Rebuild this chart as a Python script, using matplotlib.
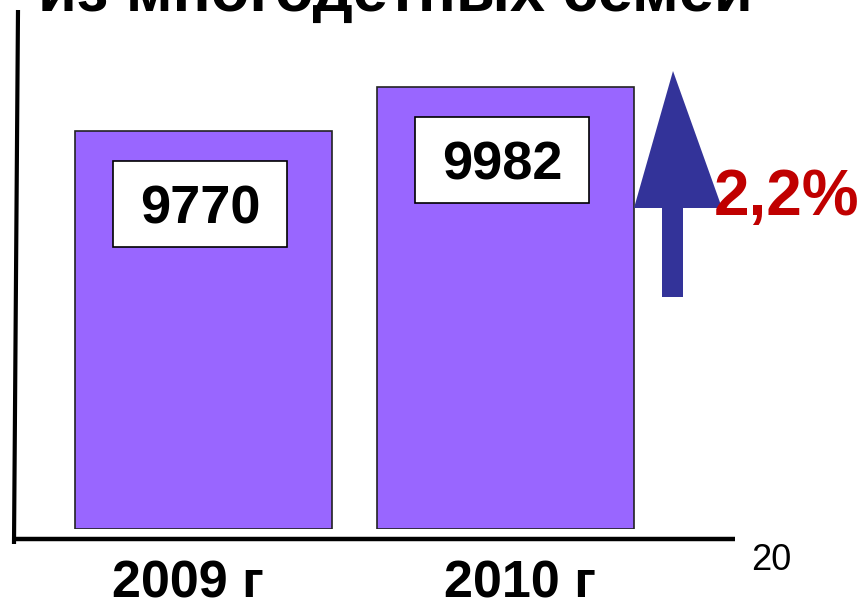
import matplotlib
matplotlib.use('Agg')
import matplotlib.pyplot as plt
from matplotlib.patches import Polygon, Rectangle
from matplotlib.lines import Line2D

plt.rcParams['font.family'] = ['Liberation Sans', 'DejaVu Sans']

W, H = 863, 602
DPI = 100

# data
years = ['2009 г', '2010 г']
values = [9770, 9982]
value_labels = ['9770', '9982']
growth = '2,2%'
title = 'из многодетных семей'
slide_no = '20'

bar_color = '#9966FF'
arrow_color = '#333399'
growth_color = '#C00000'


def fx(px):
    return px / W


def fy(py):
    return 1 - py / H


fig = plt.figure(figsize=(W / DPI, H / DPI), dpi=DPI)

# plotting area: pixels x 15..735, y 0..529 (bar baseline)
base = 7852
ax = fig.add_axes([fx(15), fy(529), fx(735) - fx(15), fy(0) - fy(529)])
ax.set_xlim(-0.624, 1.76)
ax.set_ylim(base, 10401)
ax.axis('off')

xs = list(range(len(values)))
ax.bar(xs, [v - base for v in values], bottom=base, width=0.851,
       color=bar_color, edgecolor='#222222', linewidth=1.2)

# value labels in white boxes, a bit below the bar tops
box_w, box_h, box_drop = 0.576, 410, 352
for x, v, lab in zip(xs, values, value_labels):
    ax.add_patch(Rectangle((x - box_w / 2 - 0.01, v - box_drop - box_h / 2), box_w, box_h,
                           facecolor='white', edgecolor='black', lw=1.2, zorder=3))
    ax.text(x - 0.01, v - box_drop, lab, ha='center', va='center_baseline',
            fontsize=39, fontweight='bold', zorder=4)

# axis lines (hand drawn in original, left one slightly slanted)
fig.add_artist(Line2D([fx(18), fx(14)], [fy(10), fy(544)], color='black', lw=3, solid_capstyle='butt'))
fig.add_artist(Line2D([fx(14), fx(735)], [fy(539), fy(539)], color='black', lw=3.2, solid_capstyle='butt'))

# category labels
for x, lab, off in zip(xs, years, [-16, 15]):
    ax.annotate(lab, xy=(x, base), xytext=(off, -68), textcoords='offset pixels',
                ha='center', va='baseline', fontsize=37.5, fontweight='bold')

# growth arrow
arrow = [(662, 297), (683, 297), (683, 208), (722, 208), (673, 71),
         (634, 208), (662, 208)]
fig.add_artist(Polygon([(fx(a), fy(b)) for a, b in arrow], closed=True,
                       facecolor=arrow_color, edgecolor='none'))
fig.text(fx(786), fy(215), growth, ha='center', va='baseline', fontsize=46,
         fontweight='bold', color=growth_color)

# clipped title at top
fig.text(fx(38), fy(11), title, ha='left', va='baseline', fontsize=45.5,
         fontweight='bold')

fig.text(fx(751), fy(560), slide_no, ha='left', va='center', fontsize=26)

fig.savefig('out.png', dpi=DPI)
